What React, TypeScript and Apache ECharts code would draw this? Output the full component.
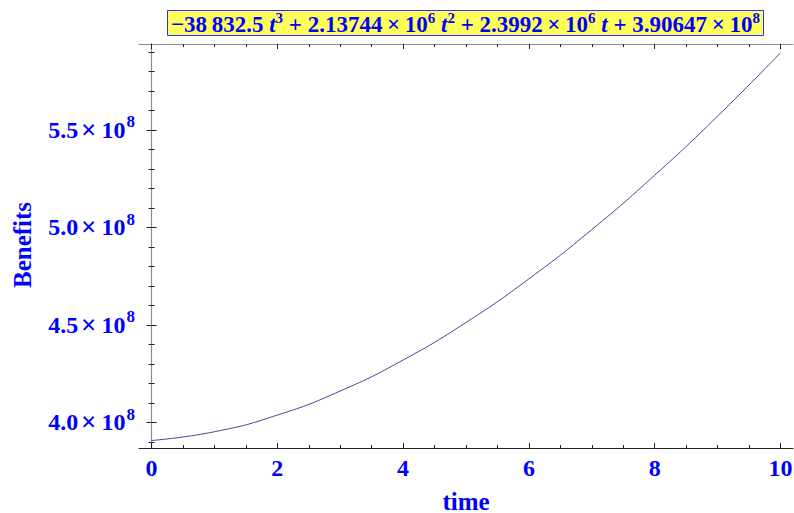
import React, { useEffect, useRef } from "react";
import * as echarts from "echarts";

const times = [0, 1, 2, 3, 4, 5, 6, 7, 8, 9, 10];
const benefitsMillions = [390.647, 395.145, 403.685, 416.033, 431.958, 451.225, 473.602, 498.856, 526.755, 557.063, 589.551];
const xTickLabels = [0, 2, 4, 6, 8, 10];
const xMinorTicks = [0.5, 1, 1.5, 2.5, 3, 3.5, 4.5, 5, 5.5, 6.5, 7, 7.5, 8.5, 9, 9.5];
const yTickLabels = [400000000, 450000000, 500000000, 550000000];
const yMinorTicks = [390000000, 410000000, 420000000, 430000000, 440000000, 460000000, 470000000, 480000000, 490000000, 510000000, 520000000, 530000000, 540000000, 560000000, 570000000, 580000000, 590000000];
const xRange = [-0.2, 10.2];
const yRange = [386800000, 594100000];
const titleText = "{n|\u221238\u2009832.5 }{i|t}{s|3}{n| + 2.13744\u2009\u00d7\u200910}{s|6}{n| }{i|t}{s|2}{n| + 2.3992\u2009\u00d7\u200910}{s|6}{n| }{i|t}{n| + 3.90647\u2009\u00d7\u200910}{s|8}";
const xName = "time";
const yName = "Benefits";

const FONT = "'Liberation Serif', 'Times New Roman', serif";
const BLUE = "#0000ff";

export default function App() {
  const ref = useRef<HTMLDivElement>(null);
  useEffect(() => {
    if (!ref.current) return;
    const chart = echarts.init(ref.current, undefined, { renderer: "svg" });
    const data = times.map((t, i) => [t, benefitsMillions[i] * 1e6]);
    const tickRich = {
      n: { fontFamily: FONT, fontWeight: "bold", fontSize: 24, color: BLUE },
      x: { fontFamily: FONT, fontWeight: "bold", fontSize: 27, color: BLUE, padding: [0, 5, 0, 3] },
      s: { fontFamily: FONT, fontWeight: "bold", fontSize: 17, color: BLUE, padding: [0, 0, 16, 1] },
    };
    const darkLine = { lineStyle: { color: "#222222", width: 1 } };
    const grayLine = { lineStyle: { color: "#8c8c8c", width: 1.2 } };
    const baseX = { type: "value", min: xRange[0], max: xRange[1], splitLine: { show: false } };
    const baseY = { type: "value", min: yRange[0], max: yRange[1], splitLine: { show: false } };
    chart.setOption({
      animation: false,
      backgroundColor: "#ffffff",
      title: {
        text: titleText,
        left: 167,
        top: 10,
        backgroundColor: "#ffff5a",
        borderColor: "#2b2bff",
        borderWidth: 1,
        padding: [0, 4, 0, 4],
        textStyle: {
          rich: {
            n: { fontFamily: FONT, fontWeight: "bold", fontSize: 23, color: BLUE },
            i: { fontFamily: FONT, fontWeight: "bold", fontStyle: "italic", fontSize: 23, color: BLUE },
            s: { fontFamily: FONT, fontWeight: "bold", fontSize: 15, color: BLUE, padding: [0, 0, 13, 0] },
          },
        },
      },
      grid: { left: 139, right: 1, top: 44, bottom: 65, outerBoundsMode: "none" },
      xAxis: [
        {
          ...baseX,
          position: "bottom",
          axisLine: { show: true, ...darkLine },
          axisTick: { show: true, inside: true, length: 5, customValues: xTickLabels, lineStyle: { color: "#222222" } },
          axisLabel: {
            show: true,
            customValues: xTickLabels,
            margin: 8,
            fontFamily: FONT,
            fontWeight: "bold",
            fontSize: 24,
            color: BLUE,
          },
        },
        {
          ...baseX,
          position: "bottom",
          axisLine: { show: false },
          axisTick: { show: true, inside: true, length: 3, customValues: xMinorTicks, lineStyle: { color: "#222222" } },
          axisLabel: { show: false },
        },
        {
          ...baseX,
          position: "top",
          axisLine: { show: true, ...grayLine },
          axisTick: { show: true, inside: true, length: 5, customValues: xTickLabels, lineStyle: { color: "#222222" } },
          axisLabel: { show: false },
        },
        {
          ...baseX,
          position: "top",
          axisLine: { show: false },
          axisTick: { show: true, inside: true, length: 3, customValues: xMinorTicks, lineStyle: { color: "#222222" } },
          axisLabel: { show: false },
        },
      ],
      yAxis: [
        {
          ...baseY,
          position: "left",
          axisLine: { show: true, ...darkLine },
          axisTick: { show: true, inside: true, length: 5, customValues: yTickLabels, lineStyle: { color: "#222222" } },
          axisLabel: {
            show: true,
            customValues: yTickLabels,
            margin: 4,
            formatter: (v: number) => `{n|${(v / 1e8).toFixed(1)}}{x|\u00d7}{n|10}{s|8}`,
            rich: tickRich,
          },
        },
        {
          ...baseY,
          position: "left",
          axisLine: { show: false },
          axisTick: { show: true, inside: true, length: 3, customValues: yMinorTicks, lineStyle: { color: "#222222" } },
          axisLabel: { show: false },
        },
        {
          ...baseY,
          position: "right",
          axisLine: { show: true, ...grayLine },
          axisTick: { show: true, inside: true, length: 5, customValues: yTickLabels, lineStyle: { color: "#222222" } },
          axisLabel: { show: false },
        },
        {
          ...baseY,
          position: "right",
          axisLine: { show: false },
          axisTick: { show: true, inside: true, length: 3, customValues: yMinorTicks, lineStyle: { color: "#222222" } },
          axisLabel: { show: false },
        },
      ],
      graphic: [
        {
          type: "text",
          x: 22,
          y: 245,
          rotation: Math.PI / 2,
          style: {
            text: yName,
            fontFamily: FONT,
            fontWeight: "bold",
            fontSize: 25,
            fill: BLUE,
            align: "center",
            verticalAlign: "middle",
          },
        },
        {
          type: "text",
          x: 466,
          y: 501,
          style: {
            text: xName,
            fontFamily: FONT,
            fontWeight: "bold",
            fontSize: 25,
            fill: BLUE,
            align: "center",
            verticalAlign: "middle",
          },
        },
      ],
      series: [
        {
          type: "line",
          xAxisIndex: 0,
          yAxisIndex: 0,
          data,
          smooth: true,
          showSymbol: false,
          symbol: "none",
          lineStyle: { color: "#4646a0", width: 1 },
        },
      ],
    });
    return () => chart.dispose();
  }, []);
  return <div ref={ref} style={{ position: "fixed", left: 0, top: 0, width: 794, height: 513 }} />;
}
